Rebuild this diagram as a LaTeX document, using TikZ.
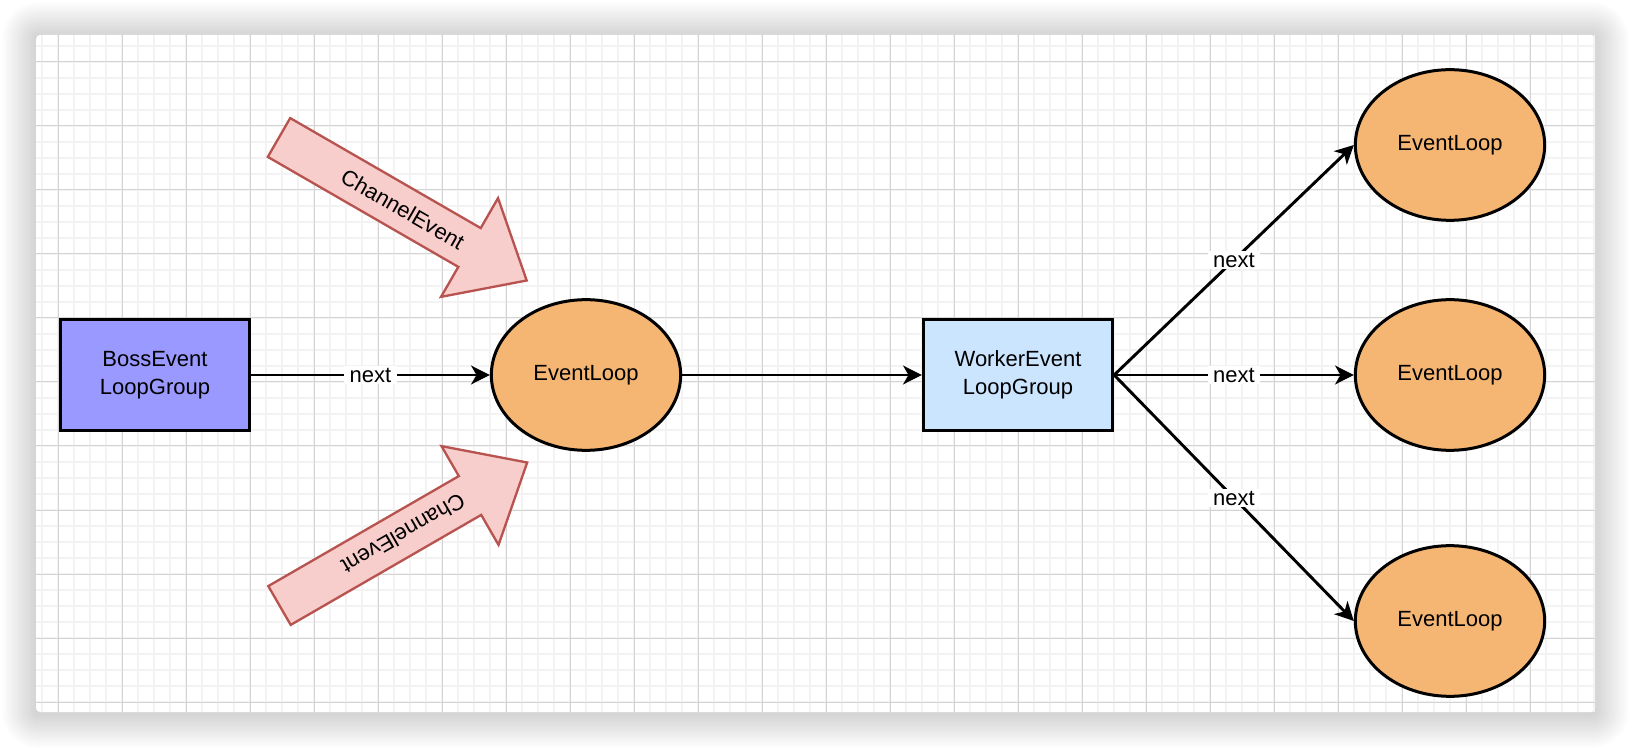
\documentclass[tikz,border=0pt]{standalone}
\usepackage{fontspec}
\setmainfont{Liberation Sans}
\usetikzlibrary{shapes.geometric,arrows.meta}
\definecolor{loopfill}{HTML}{F5B673}
\definecolor{bossfill}{HTML}{9999FF}
\definecolor{workerfill}{HTML}{CCE5FF}
\definecolor{arrowfill}{HTML}{F8CECC}
\definecolor{arrowdraw}{HTML}{B85450}
\definecolor{gridminor}{HTML}{F3F3F3}
\definecolor{gridmajor}{HTML}{D4D4D4}

\begin{document}
\begin{tikzpicture}[x=0.75pt,y=-0.75pt,font=\fontsize{16.5pt}{21pt}\selectfont]
\tikzset{group box/.style=
	{draw,line width=2.25pt,minimum width=142pt,minimum height=83pt,align=center,inner sep=0pt},
	event loop/.style=
	{ellipse,draw,line width=2.25pt,fill=loopfill,minimum width=142pt,minimum height=113pt,inner sep=0pt},
	link/.style=
	{line width=2.2pt,-{Stealth[length=14pt,width=14pt,inset=4pt]}},
	link label/.style=
	{fill=white,inner xsep=4pt,inner ysep=1.5pt},
	block arrow/.style=
	{draw=arrowdraw,fill=arrowfill,line width=1.75pt,line join=miter}}
\useasboundingbox (0,0) rectangle (1632,748);
% page shadow and grid
\foreach \d in {1,...,14}
	\fill[black,opacity=0.01,rounded corners=\d*1.8pt+2pt] (36-2.4*\d,36-2.4*\d) rectangle (1595+2.4*\d,714+2.4*\d);
\fill[white,rounded corners=3pt] (36,35) rectangle (1595,712);
\begin{scope}
	\clip (36,35) rectangle (1595,712);
	\foreach \x in {42,58,...,1594} \draw[gridminor,line width=1.5pt] (\x,35) -- (\x,712);
	\foreach \y in {46,62,...,702} \draw[gridminor,line width=1.5pt] (36,\y) -- (1595,\y);
	\foreach \x in {58,122,...,1530} \draw[gridmajor,line width=0.75pt] (\x,35) -- (\x,712);
	\foreach \y in {62,126,...,702} \draw[gridmajor,line width=0.75pt] (36,\y) -- (1595,\y);
\end{scope}
% nodes
\node[group box,fill=bossfill] (boss) at (155,375) {BossEvent\\LoopGroup};
\node[event loop] (loop) at (586,375) {EventLoop};
\node[group box,fill=workerfill] (worker) at (1018,375) {WorkerEvent\\LoopGroup};
\node[event loop] (loopA) at (1450,145) {EventLoop};
\node[event loop] (loopB) at (1450,375) {EventLoop};
\node[event loop] (loopC) at (1450,621) {EventLoop};
% connectors
\draw[link] (boss) -- node[link label] (nextBoss) {next} (loop);
\draw[link] (loop) -- (worker);
\draw[link] (worker.east) -- node[link label] (nextA) {next} (loopA.west);
\draw[link] (worker.east) -- node[link label] (nextB) {next} (loopB.west);
\draw[link] (worker.east) -- node[link label] (nextC) {next} (loopC.west);
% channel events
\begin{scope}[shift={(279,137.5)},rotate=-30]
	\draw[block arrow] (0,-22.4) -- (220,-22.4) -- (220,-57) -- (286,0) -- (220,57) -- (220,22.4) -- (0,22.4) -- cycle;
	\node[rotate=-30] (eventIn) at (143,0) {ChannelEvent};
\end{scope}
\begin{scope}[shift={(279.5,605.5)},rotate=30]
	\draw[block arrow] (0,-22.4) -- (220,-22.4) -- (220,-57) -- (286,0) -- (220,57) -- (220,22.4) -- (0,22.4) -- cycle;
	\node[rotate=210] (eventOut) at (143,0) {ChannelEvent};
\end{scope}
\end{tikzpicture}
\end{document}
